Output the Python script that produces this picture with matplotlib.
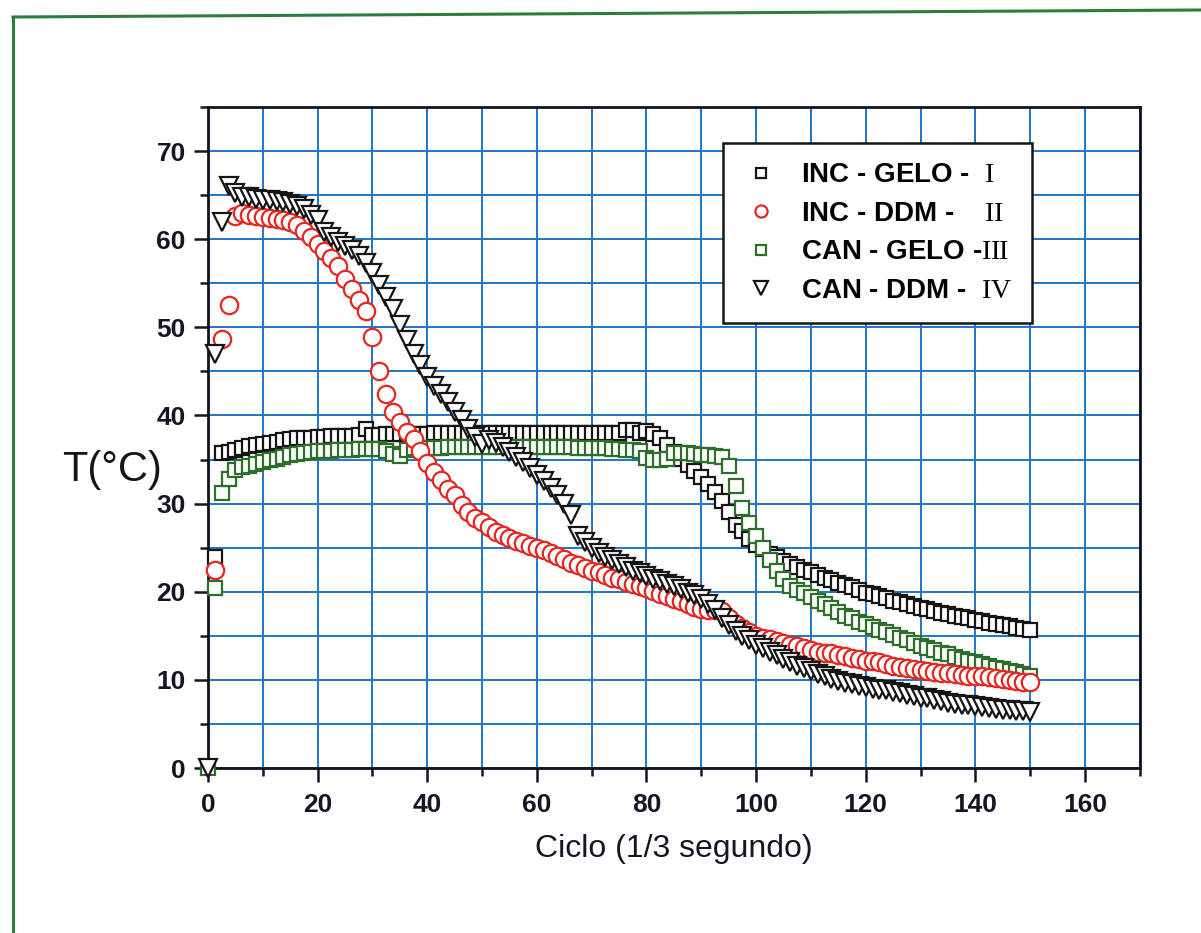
import numpy as np
import matplotlib
matplotlib.use('Agg')
from matplotlib import pyplot as plt
from matplotlib.lines import Line2D

plt.rcParams['font.family'] = ['Liberation Sans', 'DejaVu Sans']
plt.rcParams['mathtext.fontset'] = 'custom'
plt.rcParams['mathtext.rm'] = 'Liberation Serif'

nan = np.nan

# ciclo (1/3 s), one reading every 1.25 cycles
ciclo = np.arange(0, 150.01, 1.25)

# I - INC - GELO
inc_gelo = [
    nan, 23.9, 35.7, 35.9, 36.1, 36.3, 36.5, 36.7, 36.8, 36.9,
    37.0, 37.2, 37.3, 37.4, 37.5, 37.5, 37.6, 37.6, 37.7, 37.7,
    37.7, 37.7, 37.8, 38.5, 37.8, 37.8, 37.9, 37.9, 37.9, 37.9,
    37.9, 37.9, 37.9, 38.0, 38.0, 38.0, 38.0, 38.0, 38.0, 38.0,
    38.0, 38.0, 38.0, 38.0, 38.0, 38.0, 38.0, 38.0, 38.0, 38.0,
    38.0, 38.0, 38.0, 38.0, 38.0, 38.0, 38.0, 38.0, 38.0, 38.0,
    38.0, 38.4, 38.3, 38.0, 38.2, 37.9, 37.4, 36.6, 35.9, 35.1,
    34.4, 33.7, 33.0, 32.2, 31.3, 30.3, 29.0, 27.6, 26.9, 26.0,
    25.3, 24.8, 24.3, 23.9, 23.5, 23.1, 22.8, 22.5, 22.2, 21.9,
    21.6, 21.3, 21.0, 20.8, 20.5, 20.2, 19.9, 19.7, 19.5, 19.3,
    19.0, 18.8, 18.6, 18.4, 18.2, 18.0, 17.8, 17.6, 17.5, 17.3,
    17.1, 17.0, 16.8, 16.7, 16.5, 16.4, 16.2, 16.1, 15.9, 15.8,
    15.7,
]

# II - INC - DDM
inc_ddm = [
    nan, 22.5, 48.7, 52.5, 62.6, 63.0, 62.8, 62.6, 62.5, 62.4,
    62.3, 62.2, 62.0, 61.6, 60.9, 60.3, 59.5, 58.7, 57.9, 57.0,
    55.5, 54.3, 53.1, 51.9, 48.9, 45.0, 42.4, 40.4, 39.3, 38.1,
    37.3, 36.0, 34.6, 33.6, 32.7, 31.7, 31.0, 29.8, 29.0, 28.4,
    27.9, 27.4, 26.8, 26.4, 26.1, 25.8, 25.5, 25.2, 25.0, 24.7,
    24.4, 24.1, 23.7, 23.3, 23.0, 22.7, 22.4, 22.2, 21.9, 21.6,
    21.4, 21.1, 20.9, 20.6, 20.4, 20.1, 19.8, 19.5, 19.2, 18.9,
    18.6, 18.3, 18.0, 17.9, 17.9, 17.8, 17.0, 16.4, 15.9, 15.4,
    15.0, 14.8, 14.6, 14.4, 14.2, 14.0, 13.8, 13.6, 13.4, 13.2,
    13.1, 13.0, 12.8, 12.7, 12.5, 12.4, 12.2, 12.1, 12.0, 11.8,
    11.6, 11.5, 11.4, 11.2, 11.1, 11.0, 10.9, 10.8, 10.8, 10.7,
    10.6, 10.5, 10.5, 10.4, 10.3, 10.2, 10.1, 10.0, 9.9, 9.8,
    9.8,
]

# III - CAN - GELO
can_gelo = [
    0.0, 20.4, 31.2, 32.8, 33.8, 34.1, 34.3, 34.5, 34.7, 34.9,
    35.1, 35.3, 35.5, 35.6, 35.8, 35.9, 36.0, 36.0, 36.0, 36.1,
    36.1, 36.1, 36.2, 36.2, 36.2, 36.2, 36.0, 35.6, 35.4, 36.1,
    36.3, 36.3, 36.3, 36.3, 36.3, 36.4, 36.4, 36.4, 36.4, 36.4,
    36.4, 36.4, 36.4, 36.4, 36.4, 36.4, 36.4, 36.4, 36.4, 36.4,
    36.4, 36.4, 36.4, 36.4, 36.3, 36.3, 36.3, 36.3, 36.3, 36.2,
    36.2, 36.1, 36.1, 36.0, 35.2, 35.0, 35.0, 35.1, 35.7, 35.8,
    35.7, 35.6, 35.5, 35.5, 35.4, 35.3, 34.3, 32.0, 29.5, 27.8,
    26.3, 25.0, 23.6, 22.3, 21.4, 20.6, 20.2, 19.9, 19.4, 19.0,
    18.6, 18.2, 17.7, 17.3, 17.0, 16.6, 16.3, 16.0, 15.7, 15.4,
    15.1, 14.8, 14.5, 14.2, 13.9, 13.6, 13.4, 13.1, 12.9, 12.6,
    12.4, 12.2, 12.0, 11.8, 11.6, 11.4, 11.2, 11.0, 10.9, 10.7,
    10.5,
]

# IV - CAN - DDM
can_ddm = [
    0.0, 47.0, 62.0, 66.0, 65.2, 64.8, 64.8, 64.6, 64.5, 64.4,
    64.3, 64.2, 64.0, 63.8, 63.4, 62.8, 62.2, 60.8, 60.2, 59.7,
    59.2, 58.8, 58.1, 57.3, 56.2, 54.8, 53.4, 52.1, 50.3, 48.6,
    47.0, 45.7, 44.4, 43.3, 42.4, 41.5, 40.4, 39.5, 38.5, 37.6,
    36.8, 37.2, 36.9, 36.4, 35.9, 35.3, 34.7, 34.0, 33.3, 32.6,
    31.8, 31.0, 30.0, 28.7, 26.3, 25.6, 25.0, 24.4, 24.0, 23.6,
    23.2, 22.8, 22.4, 22.1, 21.8, 21.5, 21.2, 20.9, 20.6, 20.3,
    19.9, 19.6, 19.2, 18.6, 17.9, 17.0, 16.2, 15.5, 15.0, 14.5,
    14.0, 13.6, 13.2, 12.8, 12.4, 12.0, 11.6, 11.3, 11.0, 10.7,
    10.4, 10.1, 9.9, 9.7, 9.5, 9.3, 9.2, 9.0, 8.9, 8.8,
    8.6, 8.5, 8.3, 8.2, 8.0, 7.9, 7.7, 7.6, 7.4, 7.3,
    7.2, 7.1, 7.0, 6.9, 6.8, 6.7, 6.6, 6.6, 6.5, 6.5,
    6.4,
]

labels = [
    r'INC - GELO -  $\mathrm{I}$',
    r'INC - DDM -    $\mathrm{II}$',
    r'CAN - GELO -$\mathrm{III}$',
    r'CAN - DDM -  $\mathrm{IV}$',
]

fig = plt.figure(figsize=(12.01, 9.33), dpi=100)
ax = fig.add_axes([0.1732, 0.1768, 0.7758, 0.7085])

mew = 1.6
h1, = ax.plot(ciclo, inc_gelo, 's', ms=10.5, mfc='white', mec='#151515', mew=mew,
              label=labels[0], clip_on=False, zorder=3)
h3, = ax.plot(ciclo, can_gelo, 's', ms=10.5, mfc='white', mec='#2d6e2a', mew=mew,
              label=labels[2], clip_on=False, zorder=4)
h2, = ax.plot(ciclo, inc_ddm, 'o', ms=12.5, mfc='white', mec='#e8261f', mew=mew,
              label=labels[1], clip_on=False, zorder=5)
h4, = ax.plot(ciclo, can_ddm, 'v', ms=13.5, mfc='white', mec='#151515', mew=mew,
              label=labels[3], clip_on=False, zorder=6)

ax.set_xlim(0, 170)
ax.set_ylim(0, 75)
ax.set_xticks(range(0, 161, 20))
ax.set_xticks(range(10, 171, 10), minor=True)
ax.set_yticks(range(0, 71, 10))
ax.set_yticks(range(5, 76, 10), minor=True)
ax.grid(True, which='both', color='#1f74c6', lw=1.4)
ax.set_axisbelow(True)

ax.tick_params(which='major', direction='out', length=10, width=1.8,
               color='#151525', labelsize=19, labelcolor='#151525', pad=6)
ax.tick_params(which='minor', direction='out', length=6, width=1.8, color='#151525')
ax.tick_params(axis='x', pad=8)
for lbl in ax.get_xticklabels() + ax.get_yticklabels():
    lbl.set_fontweight('bold')
for s in ax.spines.values():
    s.set_linewidth(2)
    s.set_color('#121222')

ax.set_xlabel('Ciclo (1/3 segundo)', fontsize=23, color='#151525', labelpad=12)
fig.text(0.052, 1 - 470 / 933, 'T(°C)', fontsize=30, color='#151515',
         ha='left', va='center')

leg = ax.legend(handles=[h1, h2, h3, h4], labels=labels,
                loc='upper left', bbox_to_anchor=(723 / 1201, 1 - 143 / 933),
                bbox_transform=fig.transFigure, borderaxespad=0,
                fancybox=False, framealpha=1,
                edgecolor='#151515', markerscale=0.7, handlelength=1.3,
                handletextpad=0.8, labelspacing=0.45, borderpad=0.7,
                prop={'size': 20, 'weight': 'bold'})
leg.get_frame().set_linewidth(1.8)
leg.set_zorder(10)

# green frame round the sheet
fig.add_artist(Line2D([13 / 1201, 1.0], [1 - 17 / 933, 1 - 10 / 933],
                      transform=fig.transFigure, color='#2f7d3c', lw=2.2))
fig.add_artist(Line2D([13 / 1201, 13 / 1201], [1 - 17 / 933, 0.0],
                      transform=fig.transFigure, color='#2f7d3c', lw=2.2))

fig.savefig('out.png', dpi=100)
